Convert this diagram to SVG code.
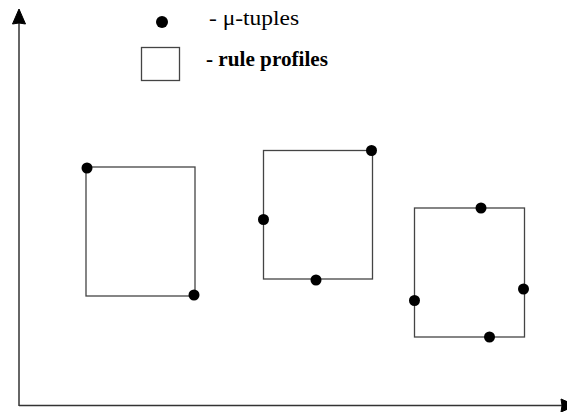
<svg xmlns="http://www.w3.org/2000/svg" width="567" height="412" viewBox="0 0 567 412">
  <style>
    .box { fill: none; stroke: #444; stroke-width: 1.3; }
    .dot { fill: #000; }
    .axis { stroke: #333; stroke-width: 1.5; fill: none; }
    .head { fill: #000; stroke: #000; stroke-width: 1; stroke-linejoin: miter; }
    .lbl { font-family: "Liberation Serif", "Times New Roman", serif; font-size: 22px; fill: #000; }
  </style>

  <!-- axes with arrowheads -->
  <g id="connectors">
    <line class="axis" x1="19" y1="406" x2="19" y2="20"/>
    <path class="head" d="M19,9 L25.5,24 L19,23 L12.5,24 Z"/>
    <line class="axis" x1="19" y1="405.5" x2="564" y2="405.5"/>
    <path class="head" d="M576,405.5 L561,412 L562,405.5 L561,399 Z"/>
  </g>

  <!-- legend -->
  <g id="legend">
    <circle class="dot" cx="162" cy="22" r="6"/>
    <text class="lbl" x="209" y="25" textLength="90" lengthAdjust="spacingAndGlyphs">- μ-tuples</text>
    <rect class="box" x="141.5" y="47.5" width="38" height="33"/>
    <text class="lbl" x="206" y="66" font-weight="bold" textLength="122" lengthAdjust="spacingAndGlyphs">- rule profiles</text>
  </g>

  <!-- profile 1 -->
  <g id="profile1">
    <rect class="box" x="86" y="167" width="109" height="129"/>
    <circle class="dot" cx="87" cy="168" r="5.5"/>
    <circle class="dot" cx="194" cy="295" r="5.5"/>
  </g>

  <!-- profile 2 -->
  <g id="profile2">
    <rect class="box" x="263.5" y="150.5" width="109" height="128.5"/>
    <circle class="dot" cx="371.5" cy="150.5" r="5.5"/>
    <circle class="dot" cx="263.5" cy="219.5" r="5.5"/>
    <circle class="dot" cx="316" cy="280" r="5.5"/>
  </g>

  <!-- profile 3 -->
  <g id="profile3">
    <rect class="box" x="414.5" y="208" width="110" height="129"/>
    <circle class="dot" cx="481" cy="208" r="5.5"/>
    <circle class="dot" cx="523.5" cy="289" r="5.5"/>
    <circle class="dot" cx="414.5" cy="300.5" r="5.5"/>
    <circle class="dot" cx="489.5" cy="337" r="5.5"/>
  </g>
</svg>
